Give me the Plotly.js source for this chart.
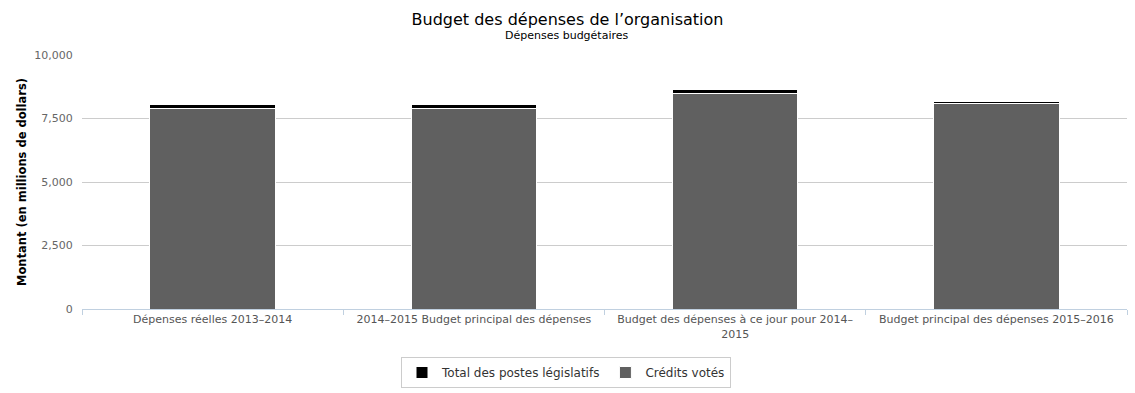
<!DOCTYPE html>
<html>
<head>
<meta charset="utf-8">
<script src="https://cdn.plot.ly/plotly-3.0.1.min.js"></script>
<style>html,body{margin:0;padding:0;background:#fff;}#chart{width:1135px;height:393px;}</style>
</head>
<body>
<div id="chart"></div>
<script>
const categories = [
  "Dépenses réelles 2013–2014",
  "2014–2015 Budget principal des dépenses",
  "Budget des dépenses à ce jour pour 2014–<br>2015",
  "Budget principal des dépenses 2015–2016"
];
const creditsVotes = [7880, 7880, 8500, 8110];
const postesLegislatifs = [180, 180, 160, 70];
const yTickVals = [0, 2500, 5000, 7500, 10000];
const yTickText = ["0", "2,500", "5,000", "7,500", "10,000"];

const font = "DejaVu Sans, Verdana, sans-serif";
const W = 1135, H = 393, L = 82, R = 8, T = 55, B = 84;
const pw = W - L - R, ph = H - T - B;

const traces = [
  {
    type: "bar", name: "Crédits votés", x: categories, y: creditsVotes,
    marker: {color: "#606060", line: {color: "#ffffff", width: 1}},
    legendrank: 2
  },
  {
    type: "bar", name: "Total des postes législatifs", x: categories, y: postesLegislatifs,
    marker: {color: "#000000", line: {color: "#ffffff", width: 1}},
    legendrank: 1
  }
];

const layout = {
  width: W, height: H,
  margin: {l: L, r: R, t: T, b: B, autoexpand: false},
  paper_bgcolor: "#ffffff", plot_bgcolor: "#ffffff",
  barmode: "stack", bargap: 0.52,
  font: {family: font, color: "#555555", size: 11},
  showlegend: true,
  legend: {
    orientation: "h", x: (566 - L) / pw, xanchor: "center",
    y: -(357 - (T + ph)) / ph, yanchor: "top", traceorder: "normal",
    bordercolor: "#cccccc", borderwidth: 1, bgcolor: "#ffffff",
    font: {family: font, size: 12, color: "#333333"}
  },
  xaxis: {
    type: "category", showgrid: false, zeroline: false, automargin: false,
    showline: true, linecolor: "#C0D0E0", linewidth: 1, tickangle: 0,
    ticks: "outside", tickson: "boundaries", ticklen: 5, tickcolor: "#C0D0E0",
    tickfont: {family: font, size: 11, color: "#555555"},
    fixedrange: true
  },
  yaxis: {
    range: [0, 10000], tickvals: yTickVals, ticktext: yTickText, automargin: false,
    showgrid: true, gridcolor: "#cccccc", gridwidth: 1, zeroline: false,
    showline: false, ticks: "outside", ticklen: 6, tickcolor: "rgba(0,0,0,0)",
    tickfont: {family: font, size: 11, color: "#666666"},
    title: {text: "<b>Montant (en millions de dollars)</b>", font: {family: font, size: 11.5, color: "#000000"}, standoff: 5},
    fixedrange: true
  },
  title: {
    text: "Budget des dépenses de l’organisation",
    font: {family: font, size: 16, color: "#000000"},
    xref: "container", x: 0.5, yref: "container", y: 1 - 19 / H, yanchor: "middle"
  },
  annotations: [
    {text: "Dépenses budgétaires", xref: "paper", yref: "paper",
     x: (567 - L) / pw, y: (T + ph - 36) / ph, xanchor: "center", yanchor: "middle",
     showarrow: false, font: {family: font, size: 11, color: "#000000"}}
  ]
};

Plotly.newPlot("chart", traces, layout, {displayModeBar: false, staticPlot: true});
</script>
</body>
</html>
